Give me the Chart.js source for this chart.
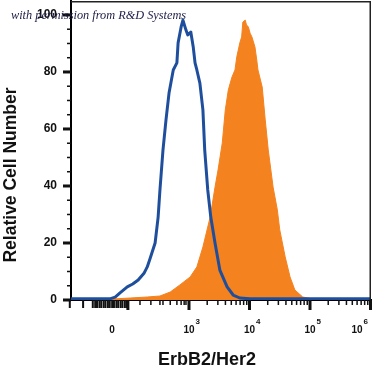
<!DOCTYPE html>
<html>
<head>
<meta charset="utf-8">
<script src="https://cdn.jsdelivr.net/npm/chart.js@4"></script>
<style>
  html, body { margin: 0; padding: 0; background: #fff; }
  #wrap { width: 372px; height: 372px; position: relative; }
</style>
</head>
<body>
<div id="wrap"><canvas id="chart"></canvas></div>
<script>
// x values are in "decade" units of the biexponential axis (3 = 10^3 ...)
const ctrlX = [1.05, 1.69, 1.78, 1.86, 1.98, 2.07, 2.16, 2.26, 2.31, 2.36, 2.44, 2.49, 2.52, 2.57, 2.62, 2.67,
               2.74, 2.80, 2.82, 2.87, 2.90, 2.95, 2.98, 3.03, 3.07, 3.10, 3.13, 3.18, 3.23, 3.26, 3.31, 3.36,
               3.43, 3.51, 3.63, 3.73, 3.84, 4.01, 6.01];
const ctrlY = [0.4, 0.4, 1.0, 2.5, 4.6, 5.6, 7.0, 9.5, 11.6, 14.7, 20.0, 29.1, 38.6, 52.6, 63.2, 72.6,
               80.7, 83.2, 90.2, 95.8, 98.2, 94.7, 93.0, 94.0, 88.8, 83.2, 80.7, 76.1, 66.7, 52.6, 38.6, 29.1,
               20.0, 10.5, 4.6, 1.75, 0.7, 0.4, 0.4];

const erbX = [1.05, 1.74, 2.03, 2.31, 2.52, 2.69, 2.85, 3.02, 3.13, 3.23, 3.35, 3.43, 3.48, 3.55, 3.60, 3.65,
              3.71, 3.76, 3.79, 3.84, 3.87, 3.89, 3.93, 3.95, 3.98, 4.01, 4.04, 4.09, 4.12, 4.14, 4.21, 4.26,
              4.31, 4.39, 4.46, 4.50, 4.59, 4.67, 4.75, 4.88, 5.05, 6.01];
const erbY = [0, 0.35, 0.7, 1.05, 1.4, 2.8, 5.3, 8.1, 11.6, 18.6, 29.1, 39.6, 45.6, 55.1, 66.7, 73.7,
              78.2, 80.7, 85.3, 90.2, 92.3, 97.5, 98.2, 96.5, 95.9, 93.6, 92.3, 88.8, 84.2, 80.7, 74.7, 63.2,
              52.6, 39.6, 31.6, 24.6, 15.1, 8.1, 3.5, 1.05, 0.35, 0];

const yTicks = [0, 20, 40, 60, 80, 100];
const yMinorTicks = [5, 10, 15, 25, 30, 35, 45, 50, 55, 65, 70, 75, 85, 90, 95, 105];
const xTickValues = [1.73, 3, 4, 5, 6];
const xTickLabels = ['0', '10', '10', '10', '10'];
const xTickExps = ['', '3', '4', '5', '6'];
const xMajorTicks = [1.99, 3, 4, 5, 6];
const xNearZeroTicks = [1.03, 1.25, 1.41, 1.45, 1.48, 1.52, 1.55, 1.59, 1.62, 1.66, 1.69, 1.73, 1.76, 1.8,
                        1.83, 1.87, 1.9, 1.94, 1.97];
const xDecade2Ticks = [2.19, 2.37, 2.52, 2.57, 2.69, 2.8, 2.87, 2.92, 2.95];
const logSteps = [2, 3, 4, 5, 6, 7, 8, 9];

const SANS = "'Liberation Sans', Arial, sans-serif";

const decor = {
    id: 'decor',
    afterDraw(chart) {
        const { ctx, chartArea: a, scales: { x, y } } = chart;
        ctx.save();
        ctx.fillStyle = '#111';

        // frame top and right
        ctx.strokeStyle = '#222';
        ctx.lineWidth = 1.5;
        ctx.beginPath();
        ctx.moveTo(a.left, a.top + 0.75);
        ctx.lineTo(a.right - 0.75, a.top + 0.75);
        ctx.lineTo(a.right - 0.75, a.bottom);
        ctx.stroke();

        // y tick marks
        yTicks.forEach(v => {
            const py = y.getPixelForValue(v);
            ctx.fillRect(a.left - 8, py - 1.5, 8, 3);
        });
        yMinorTicks.forEach(v => {
            const py = y.getPixelForValue(v);
            if (py < a.top) return;
            ctx.fillRect(a.left - 4, py - 0.75, 4, 1.5);
        });

        // x tick marks
        const minor = [];
        [3, 4, 5].forEach(d => logSteps.forEach(k => minor.push(d + Math.log10(k))));
        minor.concat(xDecade2Ticks).forEach(v => {
            const px = x.getPixelForValue(v);
            ctx.fillRect(px - 0.75, a.bottom, 1.5, 5);
        });
        xNearZeroTicks.forEach(v => {
            const px = x.getPixelForValue(v);
            ctx.fillRect(px - 1, a.bottom, 2, 8);
        });
        xMajorTicks.forEach(v => {
            const px = x.getPixelForValue(v);
            ctx.fillRect(px - 1.5, a.bottom, 3, 10);
        });

        // x tick labels with exponents
        ctx.textBaseline = 'middle';
        xTickValues.forEach((v, i) => {
            let cx = x.getPixelForValue(v);
            ctx.font = 'bold 10px ' + SANS;
            const wBase = ctx.measureText(xTickLabels[i]).width;
            ctx.font = 'bold 8px ' + SANS;
            const wExp = ctx.measureText(xTickExps[i]).width;
            cx = Math.min(cx, 368 - wExp - 1 - wBase / 2);
            ctx.font = 'bold 10px ' + SANS;
            ctx.textAlign = 'center';
            ctx.fillText(xTickLabels[i], cx, 330);
            if (xTickExps[i]) {
                ctx.font = 'bold 8px ' + SANS;
                ctx.textAlign = 'left';
                ctx.fillText(xTickExps[i], cx + wBase / 2 + 1, 322);
            }
        });

        // axis titles
        ctx.textAlign = 'center';
        ctx.font = 'bold 18px ' + SANS;
        ctx.fillText('ErbB2/Her2', 207, 360);
        ctx.save();
        ctx.translate(11, 175);
        ctx.rotate(-Math.PI / 2);
        ctx.font = 'bold 17.5px ' + SANS;
        ctx.fillText('Relative Cell Number', 0, 0);
        ctx.restore();

        // watermark
        ctx.fillStyle = '#1c1c48';
        ctx.textAlign = 'left';
        ctx.font = "italic 12.3px 'Liberation Serif', 'DejaVu Serif', serif";
        ctx.fillText('with permission from R&D Systems', 11, 16);

        ctx.restore();
    }
};

new Chart(document.getElementById('chart'), {
    type: 'line',
    data: {
        datasets: [
            {
                label: 'Control',
                data: ctrlX.map((v, i) => ({ x: v, y: ctrlY[i] })),
                borderColor: '#1f4f9c',
                borderWidth: 3,
                borderJoinStyle: 'round',
                fill: false,
                pointRadius: 0,
                tension: 0,
                order: 0
            },
            {
                label: 'ErbB2/Her2',
                data: erbX.map((v, i) => ({ x: v, y: erbY[i] })),
                borderColor: '#f4821f',
                backgroundColor: '#f4821f',
                borderWidth: 1,
                fill: 'origin',
                pointRadius: 0,
                tension: 0,
                order: 1
            }
        ]
    },
    options: {
        responsive: true,
        maintainAspectRatio: false,
        animation: false,
        layout: { padding: { top: 1, right: 1, left: 0, bottom: 0 } },
        plugins: {
            legend: { display: false },
            tooltip: { enabled: false }
        },
        scales: {
            x: {
                type: 'linear',
                min: 1.05,
                max: 6.008,
                grid: { display: false },
                border: { display: true, color: '#000', width: 2 },
                ticks: { display: false },
                afterFit: scale => { scale.height = 72; }
            },
            y: {
                min: 0,
                max: 104.9,
                grid: { display: false },
                border: { display: true, color: '#000', width: 2 },
                afterBuildTicks: scale => { scale.ticks = yTicks.map(v => ({ value: v })); },
                ticks: {
                    padding: 6,
                    color: '#111',
                    font: { family: SANS, size: 12, weight: 'bold' }
                },
                afterFit: scale => {
                    scale.width = 71;
                    scale.paddingTop = 0;
                    scale.paddingBottom = 0;
                }
            }
        }
    },
    plugins: [decor]
});
</script>
</body>
</html>
